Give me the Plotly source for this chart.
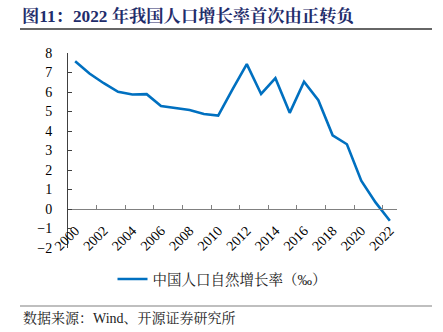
import plotly.graph_objects as go

years = [str(y) for y in range(2000, 2023)]
rate = [7.58, 6.95, 6.45, 6.01, 5.87, 5.89, 5.28, 5.17, 5.08, 4.87, 4.79,
        6.13, 7.43, 5.90, 6.71, 4.93, 6.53, 5.58, 3.78, 3.32, 1.45, 0.34, -0.60]
tick_years = [str(y) for y in range(2000, 2023, 2)]
series_name = "中国人口自然增长率（‰）"
title_text = "图11：2022 年我国人口增长率首次由正转负"
source_text = "数据来源：Wind、开源证券研究所"

W, H = 443, 332
ml, mr, mt, mb = 68, 46, 53, 84
serif = "Liberation Serif, Times New Roman, Noto Serif CJK SC, Noto Sans CJK SC, serif"


def px_x(px):
    return (px - ml) / (W - ml - mr)


def px_y(py):
    return (H - mb - py) / (H - mt - mb)


fig = go.Figure()
fig.add_trace(go.Scatter(
    x=years, y=rate, mode="lines", name=series_name,
    line=dict(color="#0070C0", width=2.6),
))

fig.update_layout(
    width=W, height=H,
    margin=dict(l=ml, r=mr, t=mt, b=mb),
    paper_bgcolor="white", plot_bgcolor="white",
    font=dict(family=serif, color="#000000", size=13),
    showlegend=True,
    legend=dict(
        orientation="h", x=px_x(222), xanchor="center", y=px_y(279), yanchor="middle",
        font=dict(size=14.5, family=serif, color="#222222"),
        itemwidth=30, bgcolor="rgba(0,0,0,0)",
    ),
    xaxis=dict(
        type="category", categoryorder="array", categoryarray=years,
        tickmode="array", tickvals=tick_years, ticktext=tick_years,
        tickson="boundaries", ticks="inside", ticklen=4, tickcolor="#808080",
        tickangle=-45, showline=True, linecolor="#808080", linewidth=1,
        showgrid=False, zeroline=False,
        anchor="free", position=0.2, ticklabelstandoff=7,
        tickfont=dict(size=14, family=serif, color="#000000"),
        range=[-0.5, 22.5],
    ),
    yaxis=dict(
        range=[-2, 8], dtick=1, tick0=0, ticks="inside", ticklen=4,
        tickcolor="#404040", showline=True, linecolor="#404040", linewidth=1,
        showgrid=False, zeroline=False, ticklabelstandoff=12,
        tickfont=dict(size=14, family=serif, color="#000000"),
        domain=[0, 1],
    ),
)

fig.add_annotation(
    xref="paper", yref="paper", x=px_x(20), y=px_y(16),
    text="<b>" + title_text + "</b>", showarrow=False, xanchor="left", yanchor="middle",
    font=dict(size=17.3, family=serif, color="#1F2D6B"),
)
fig.add_annotation(
    xref="paper", yref="paper", x=px_x(21), y=px_y(318),
    text=source_text, showarrow=False, xanchor="left", yanchor="middle",
    font=dict(size=14, family=serif, color="#222222"),
)

fig.add_shape(type="line", xref="paper", yref="paper",
              x0=px_x(20), x1=px_x(432), y0=px_y(29), y1=px_y(29),
              line=dict(color="#333333", width=1.5))
fig.add_shape(type="line", xref="paper", yref="paper",
              x0=px_x(20), x1=px_x(432), y0=px_y(306), y1=px_y(306),
              line=dict(color="#808080", width=1.2))

fig.write_html("out.html")
